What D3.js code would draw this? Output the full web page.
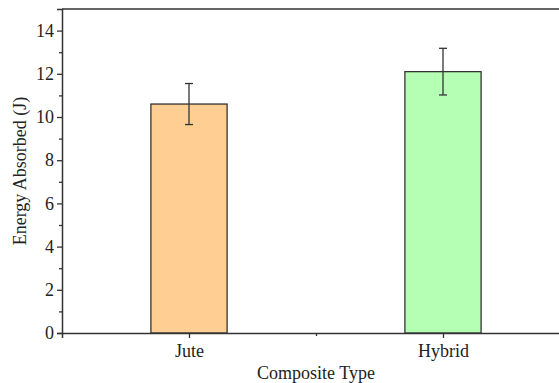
<!DOCTYPE html>
<html>
<head>
<meta charset="utf-8">
<script src="https://cdn.jsdelivr.net/npm/d3@7"></script>
<style>
  body { margin: 0; background: #fff; }
  text { font-family: "Liberation Serif", "Times New Roman", serif; fill: #222; }
  .tick text { font-size: 18px; }
</style>
</head>
<body>
<div id="chart"></div>
<script>
// Composite energy absorption - bar chart with error bars
var categories = ["Jute", "Hybrid"];
var energyValues = [10.6, 12.1];
var energyErrors = [0.95, 1.08];
var barColors = ["#FFCE93", "#B5FFB5"];
var yTicks = [0, 2, 4, 6, 8, 10, 12, 14];

var svgWidth = 559;
var svgHeight = 383;

var margin = {
    top: 9,
    right: -11,
    bottom: 50,
    left: 62
};

var width = svgWidth - margin.left - margin.right;
var height = svgHeight - margin.top - margin.bottom;

var svg = d3.select("#chart")
    .append("svg")
    .attr("width", svgWidth)
    .attr("height", svgHeight);

var chartGroup = svg.append("g")
    .attr("transform", `translate(${margin.left}, ${margin.top})`);

// scales: categories sit at 1 and 2, axis runs 0.5 .. 2.5
var xLinearScale = d3.scaleLinear()
    .domain([0.5, 2.5])
    .range([0, width]);

var yLinearScale = d3.scaleLinear()
    .domain([0, 15])
    .range([height, 0]);

var barWidth = xLinearScale(1.3) - xLinearScale(1);

// bars
chartGroup.selectAll("rect.bar")
    .data(categories)
    .enter()
    .append("rect")
    .attr("class", "bar")
    .attr("x", (d, i) => xLinearScale(i + 1) - barWidth / 2)
    .attr("y", (d, i) => yLinearScale(energyValues[i]))
    .attr("width", barWidth)
    .attr("height", (d, i) => height - yLinearScale(energyValues[i]))
    .attr("fill", (d, i) => barColors[i])
    .attr("stroke", "#333")
    .attr("stroke-width", 1.3);

// error bars
var errGroup = chartGroup.selectAll("g.err")
    .data(categories)
    .enter()
    .append("g")
    .attr("class", "err")
    .attr("stroke", "#333")
    .attr("stroke-width", 1.3);

errGroup.append("line")
    .attr("x1", (d, i) => xLinearScale(i + 1))
    .attr("x2", (d, i) => xLinearScale(i + 1))
    .attr("y1", (d, i) => yLinearScale(energyValues[i] + energyErrors[i]))
    .attr("y2", (d, i) => yLinearScale(energyValues[i] - energyErrors[i]));

[1, -1].forEach(function(sign) {
    errGroup.append("line")
        .attr("x1", (d, i) => xLinearScale(i + 1) - 4)
        .attr("x2", (d, i) => xLinearScale(i + 1) + 4)
        .attr("y1", (d, i) => yLinearScale(energyValues[i] + sign * energyErrors[i]))
        .attr("y2", (d, i) => yLinearScale(energyValues[i] + sign * energyErrors[i]));
});

// y axis: major + minor ticks
var yMinor = chartGroup.append("g")
    .call(d3.axisLeft(yLinearScale).tickValues(d3.range(1, 15, 2)).tickSize(3).tickFormat(""));

var yAxis = chartGroup.append("g")
    .call(d3.axisLeft(yLinearScale).tickValues(yTicks).tickSize(5).tickPadding(3));

// x axis
var xMinor = chartGroup.append("g")
    .attr("transform", `translate(0, ${height})`)
    .call(d3.axisBottom(xLinearScale).tickValues([1.5]).tickSize(3).tickFormat(""));

var xAxis = chartGroup.append("g")
    .attr("transform", `translate(0, ${height})`)
    .call(d3.axisBottom(xLinearScale).tickValues([1, 2]).tickSize(5).tickPadding(6)
        .tickFormat(d => categories[d - 1]));

[yMinor, yAxis, xMinor, xAxis].forEach(function(ax) {
    ax.attr("font-size", null).attr("font-family", null);
    ax.select(".domain").attr("stroke", "#333").attr("stroke-width", 1.5);
    ax.selectAll(".tick line").attr("stroke", "#333").attr("stroke-width", 1.3);
});
xMinor.select(".domain").remove();
yMinor.select(".domain").remove();

// top frame line
chartGroup.append("line")
    .attr("x1", 0)
    .attr("x2", width)
    .attr("y1", 0)
    .attr("y2", 0)
    .attr("stroke", "#333")
    .attr("stroke-width", 1.5);

// axis titles
chartGroup.append("text")
    .attr("transform", "rotate(-90)")
    .attr("x", -height / 2)
    .attr("y", -margin.left + 26)
    .attr("text-anchor", "middle")
    .style("font-size", "18px")
    .text("Energy Absorbed (J)");

chartGroup.append("text")
    .attr("x", xLinearScale(1.5))
    .attr("y", height + 46)
    .attr("text-anchor", "middle")
    .style("font-size", "18px")
    .text("Composite Type");
</script>
</body>
</html>
